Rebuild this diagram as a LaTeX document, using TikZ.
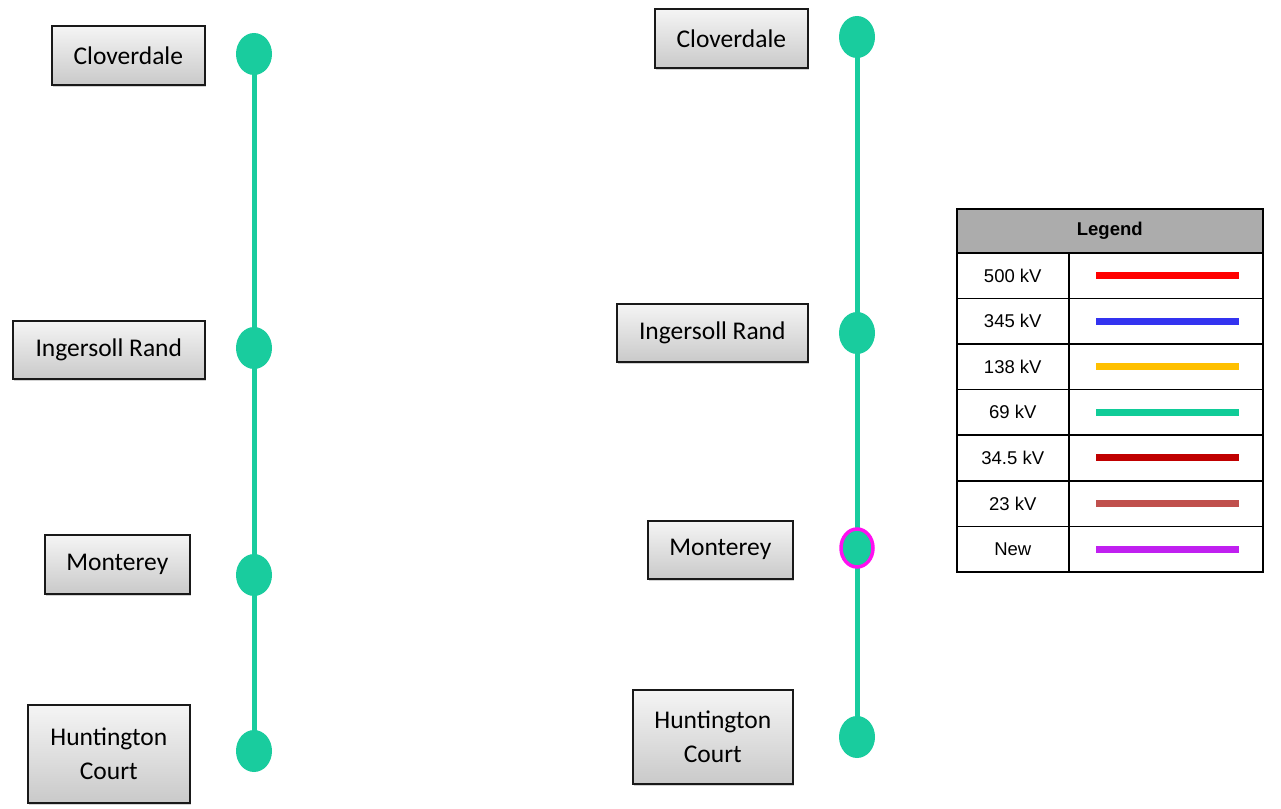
\documentclass[tikz,border=0pt]{standalone}
\usepackage{fontspec}
\setmainfont{Carlito}
\newfontfamily\legfont{Liberation Sans}
\usetikzlibrary{shadows,shapes.geometric,backgrounds}
\definecolor{teal69}{HTML}{19CC9E}
\definecolor{kvA}{HTML}{FF0000}
\definecolor{kvB}{HTML}{3333F0}
\definecolor{kvC}{HTML}{FFC000}
\definecolor{kvD}{HTML}{10CC98}
\definecolor{kvE}{HTML}{C00000}
\definecolor{kvF}{HTML}{C0504D}
\definecolor{kvG}{HTML}{C020F0}
\definecolor{newring}{HTML}{FF10F0}
\begin{document}
\begin{tikzpicture}[x=1pt,y=-1pt,
  station/.style={draw=black!90,line width=1.6pt,top color=gray!8,bottom color=gray!42,
    drop shadow={shadow xshift=1.5pt,shadow yshift=-2pt,opacity=0.35},
    inner sep=0pt,font=\fontsize{25.5}{34}\selectfont,align=center,anchor=north west},
  bus/.style={ellipse,fill=teal69,minimum width=36pt,minimum height=42pt,inner sep=0pt},
  line69/.style={draw=teal69,line width=5pt},
  legcell/.style={draw=black,line width=1.5pt},
  legtxt/.style={font=\legfont\fontsize{18.5}{20}\selectfont},
  legline/.style={line width=7pt}]
\useasboundingbox (0,0) rectangle (1281,808);
% left diagram
\node[station,minimum width=153pt,minimum height=59pt] (lc) at (51,25) {Cloverdale};
\node[station,minimum width=192pt,minimum height=58pt] (li) at (12,320) {Ingersoll Rand};
\node[station,minimum width=145pt,minimum height=59pt] (lm) at (44,534) {Monterey};
\node[station,minimum width=162pt,minimum height=98pt] (lh) at (27,704) {Huntington\\Court};
\node[bus] (lbc) at (254,54) {};
\node[bus] (lbi) at (254,348) {};
\node[bus] (lbm) at (254,575) {};
\node[bus] (lbh) at (254,751) {};
% right diagram
\node[station,minimum width=153pt,minimum height=59pt] (rc) at (654,8) {Cloverdale};
\node[station,minimum width=191pt,minimum height=58pt] (ri) at (616,303) {Ingersoll Rand};
\node[station,minimum width=145pt,minimum height=58pt] (rm) at (647,520) {Monterey};
\node[station,minimum width=160pt,minimum height=94pt] (rh) at (632,689) {Huntington\\Court};
\node[bus] (rbc) at (857,37) {};
\node[bus] (rbi) at (857,333) {};
\node[bus,draw=newring,line width=3.5pt,minimum width=32pt,minimum height=38pt] (rbm) at (857,548) {};
\node[bus] (rbh) at (857,737) {};
\begin{scope}[on background layer]
\draw[line69] (lbc.center) -- (lbi.center) -- (lbm.center) -- (lbh.center);
\draw[line69] (rbc.center) -- (rbi.center) -- (rbm.center) -- (rbh.center);
\end{scope}
% legend
\node[legcell,fill=gray!65,minimum width=306pt,minimum height=44pt,inner sep=0pt,anchor=north west,
  font=\legfont\bfseries\fontsize{18.5}{20}\selectfont] (lh0) at (956,208) {Legend};
\foreach \i/\t/\c in {0/500 kV/kvA,1/345 kV/kvB,2/138 kV/kvC,3/69 kV/kvD,4/34.5 kV/kvE,5/23 kV/kvF,6/New/kvG}{
  \node[legcell,legtxt,minimum width=112pt,minimum height=45.6pt,inner sep=0pt,anchor=north west]
    (lk\i) at (956,252+45.6*\i) {\t};
  \node[legcell,minimum width=194pt,minimum height=45.6pt,inner sep=0pt,anchor=north west]
    (lv\i) at (1068,252+45.6*\i) {};
  \draw[legline,\c] ([xshift=28pt]lv\i.west) -- ([xshift=-25pt]lv\i.east);
}
\end{tikzpicture}
\end{document}
